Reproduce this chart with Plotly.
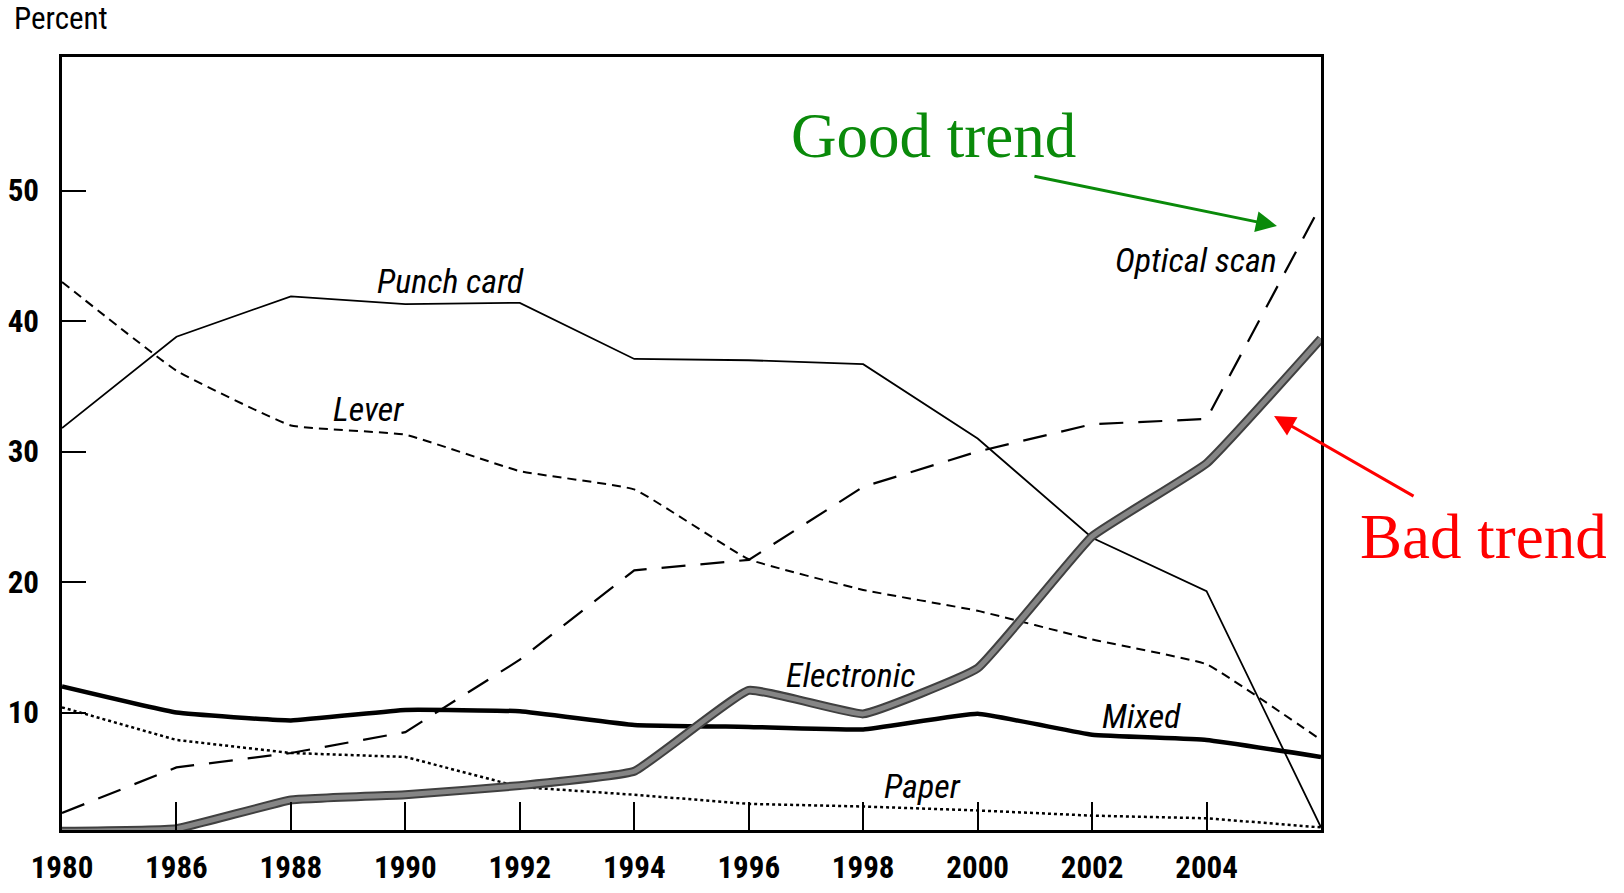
import plotly.graph_objects as go

years = ["1980", "1986", "1988", "1990", "1992", "1994", "1996", "1998", "2000", "2002", "2004", "2006"]
year_labels = ["1980", "1986", "1988", "1990", "1992", "1994", "1996", "1998", "2000", "2002", "2004", ""]

punch_card = [31.8, 38.8, 41.9, 41.3, 41.4, 37.1, 37.0, 36.7, 31.0, 23.4, 19.3, 1.2]
lever = [43.0, 36.2, 32.0, 31.3, 28.5, 27.1, 21.75, 19.4, 17.8, 15.6, 13.7, 7.9]
optical_scan = [2.3, 5.8, 6.9, 8.5, 14.05, 20.9, 21.7, 27.3, 30.0, 32.1, 32.5, 48.9]
electronic = [0.9, 1.1, 3.3, 3.7, 4.4, 5.5, 11.7, 9.9, 13.4, 23.5, 29.1, 38.65]
mixed = [12.0, 10.0, 9.4, 10.2, 10.1, 9.05, 8.9, 8.7, 9.9, 8.3, 7.9, 6.6]
paper = [10.4, 7.9, 6.9, 6.6, 4.3, 3.7, 3.0, 2.8, 2.5, 2.1, 1.9, 1.2]

y_ticks = [10, 20, 30, 40, 50]

series_labels = ["Punch card", "Lever", "Optical scan", "Electronic", "Mixed", "Paper"]
label_x = [3.39, 2.68, 9.91, 6.89, 9.43, 7.52]
label_y = [43.1, 33.3, 44.7, 12.9, 9.74, 4.4]

NARROW = "Liberation Sans Narrow, Roboto Condensed, Arial Narrow, Roboto, sans-serif"
SERIF = "Liberation Serif, Times New Roman, serif"

fig = go.Figure()

fig.add_trace(go.Scatter(x=years, y=paper, mode="lines",
                         line=dict(color="black", width=2.5, dash="3px,3px")))
fig.add_trace(go.Scatter(x=years, y=lever, mode="lines", line_shape="spline",
                         line=dict(color="black", width=2, dash="9px,6px", smoothing=0.3)))
fig.add_trace(go.Scatter(x=years, y=optical_scan, mode="lines",
                         line=dict(color="black", width=2.2, dash="24px,15px")))
fig.add_trace(go.Scatter(x=years, y=punch_card, mode="lines",
                         line=dict(color="black", width=1.8)))
fig.add_trace(go.Scatter(x=years, y=mixed, mode="lines", line_shape="spline",
                         line=dict(color="black", width=4.5, smoothing=0.3)))
fig.add_trace(go.Scatter(x=years, y=electronic, mode="lines", line_shape="spline",
                         line=dict(color="#404040", width=9, smoothing=0.3)))
fig.add_trace(go.Scatter(x=years, y=electronic, mode="lines", line_shape="spline",
                         line=dict(color="#858585", width=5, smoothing=0.3)))

for name, lx, ly in zip(series_labels, label_x, label_y):
    fig.add_annotation(x=lx, y=ly, xref="x", yref="y", text="<i>" + name + "</i>",
                       showarrow=False, xanchor="center", yanchor="middle",
                       font=dict(family=NARROW, size=34, color="black"))

fig.add_annotation(x=-0.0397, y=1.05, xref="paper", yref="paper", text="Percent",
                   showarrow=False, xanchor="left", yanchor="middle",
                   font=dict(family=NARROW, size=31, color="black"))

fig.add_annotation(x=0.6926, y=0.8978, xref="paper", yref="paper", text="Good trend",
                   showarrow=False, xanchor="center", yanchor="middle",
                   font=dict(family=SERIF, size=63, color="#0a8a0a"))
fig.add_annotation(x=1.1294, y=0.379, xref="paper", yref="paper", text="Bad trend",
                   showarrow=False, xanchor="center", yanchor="middle",
                   font=dict(family=SERIF, size=63, color="#ff0000"))

fig.add_annotation(x=0.965, y=0.7814, xref="paper", yref="paper", ax=-244, ay=-50,
                   axref="pixel", ayref="pixel", text="", showarrow=True,
                   arrowhead=2, arrowsize=1.4, arrowwidth=3, arrowcolor="#0a8a0a")
fig.add_annotation(x=0.9627, y=0.5356, xref="paper", yref="paper", ax=141, ay=81,
                   axref="pixel", ayref="pixel", text="", showarrow=True,
                   arrowhead=2, arrowsize=1.4, arrowwidth=3, arrowcolor="#ff0000")

fig.update_layout(
    width=1624, height=893, autosize=False,
    margin=dict(l=62, r=303, t=57, b=63),
    plot_bgcolor="white", paper_bgcolor="white",
    showlegend=False,
    font=dict(family=NARROW, color="black"),
)
fig.update_xaxes(type="category", range=[0, 11], tickvals=years, ticktext=year_labels,
                 showgrid=False, zeroline=False, showline=True, mirror=True,
                 linecolor="black", linewidth=2.5, ticks="inside", ticklen=28,
                 tickwidth=2, tickcolor="black", automargin=False,
                 tickfont=dict(family=NARROW, size=31, weight="bold"),
                 ticklabelstandoff=8)
fig.update_yaxes(range=[1.0, 60.24], tickvals=y_ticks, showgrid=False, zeroline=False,
                 showline=True, mirror=True, linecolor="black", linewidth=2.5,
                 ticks="inside", ticklen=24, tickwidth=2, tickcolor="black", automargin=False,
                 tickfont=dict(family=NARROW, size=31, weight="bold"), ticklabelstandoff=14)

fig.write_html("out.html", config={"displayModeBar": False},
               post_script="document.body.style.margin='0';")
